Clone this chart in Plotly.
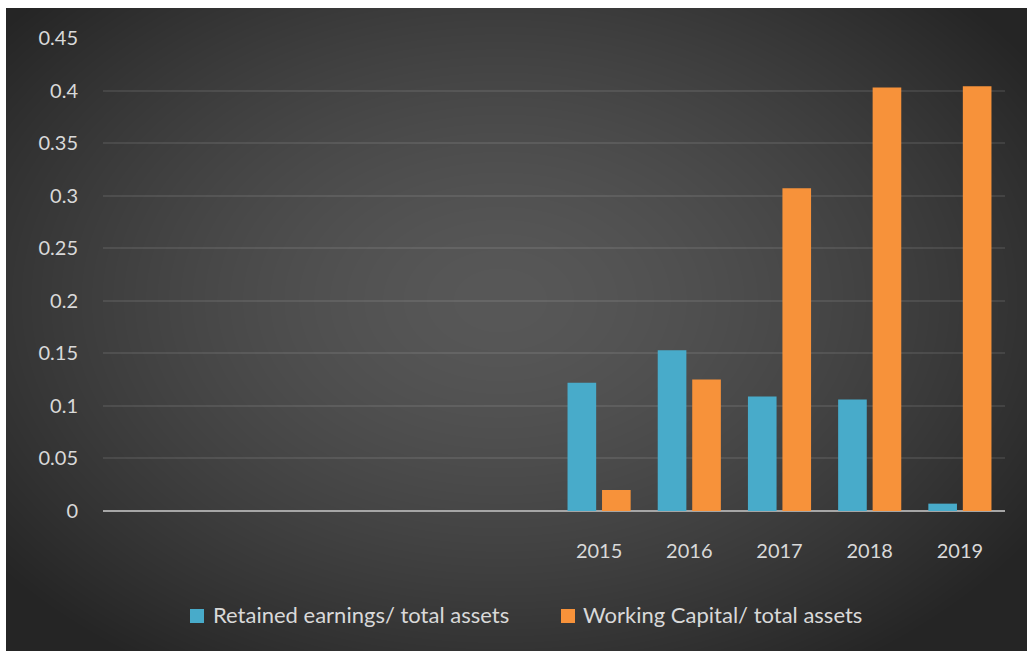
import base64
import struct
import zlib

import numpy as np
import plotly.graph_objects as go

# ---- data ----
categories = ["", "", "", "", "", "2015", "2016", "2017", "2018", "2019"]
retained_earnings = [None, None, None, None, None, 0.122, 0.153, 0.109, 0.106, 0.007]
working_capital = [None, None, None, None, None, 0.020, 0.125, 0.307, 0.403, 0.404]
series_names = ["Retained earnings/ total assets", "Working Capital/ total assets"]
series_colors = ["#48abca", "#f7923a"]
y_ticks = [0, 0.05, 0.1, 0.15, 0.2, 0.25, 0.3, 0.35, 0.4, 0.45]
y_tick_labels = ["0", "0.05", "0.1", "0.15", "0.2", "0.25", "0.3", "0.35", "0.4", "0.45"]

W, H = 1027, 651
ML, MR, MT, MB = 103, 22, 38, 140
PW, PH = W - ML - MR, H - MT - MB


def px_x(x):
    return (x - ML) / PW


def px_y(y):
    return (MT + PH - y) / PH


def png_data_uri(rgb):
    """Encode an HxWx3 uint8 array as a PNG data URI."""
    h, w, _ = rgb.shape
    raw = b"".join(b"\x00" + rgb[r].tobytes() for r in range(h))

    def chunk(tag, data):
        c = struct.pack(">I", len(data)) + tag + data
        return c + struct.pack(">I", zlib.crc32(tag + data) & 0xFFFFFFFF)

    png = b"\x89PNG\r\n\x1a\n"
    png += chunk(b"IHDR", struct.pack(">IIBBBBB", w, h, 8, 2, 0, 0, 0))
    png += chunk(b"IDAT", zlib.compress(raw, 9))
    png += chunk(b"IEND", b"")
    return "data:image/png;base64," + base64.b64encode(png).decode()


# radial dark-grey backdrop for the chart area, with a thin white frame top/left
bx0, by0 = 6, 8
yy, xx = np.mgrid[0:H, 0:W].astype(float)
cx, cy = 500.0, 300.0
rx, ry = 640.0, 440.0
d = np.sqrt(((xx - cx) / rx) ** 2 + ((yy - cy) / ry) ** 2)
d = np.clip(d, 0, 1)
center_c = np.array([0x58, 0x58, 0x58], float)
edge_c = np.array([0x25, 0x25, 0x25], float)
t = d[..., None] ** 1.5
img = center_c * (1 - t) + edge_c * t
img[:by0, :, :] = 255
img[:, :bx0, :] = 255
img = np.clip(img, 0, 255).astype(np.uint8)
bg_uri = png_data_uri(img)

x_idx = list(range(len(categories)))

fig = go.Figure()
for name, vals, col in zip(series_names, [retained_earnings, working_capital], series_colors):
    fig.add_trace(go.Bar(
        x=x_idx, y=vals, name=name,
        marker=dict(color=col, line=dict(width=0)),
        showlegend=False,
    ))

font_family = "Lato, 'Open Sans', sans-serif"
text_color = "#d9d9d9"

# legend row: coloured square + label for each series
legend_items = [(190, 211), (561, 581)]
square_mid, text_mid = 616, 614
annotations, shapes = [], []
for (sq_x, tx_x), name, col in zip(legend_items, series_names, series_colors):
    shapes.append(dict(
        type="rect", xref="paper", yref="paper",
        x0=px_x(sq_x), x1=px_x(sq_x + 14),
        y0=px_y(square_mid + 7), y1=px_y(square_mid - 7),
        fillcolor=col, line=dict(width=0),
    ))
    annotations.append(dict(
        xref="paper", yref="paper", x=px_x(tx_x), y=px_y(text_mid),
        text=name, showarrow=False, xanchor="left", yanchor="middle",
        font=dict(family=font_family, size=22, color=text_color),
    ))

fig.update_layout(
    width=W, height=H,
    margin=dict(l=ML, r=MR, t=MT, b=MB, pad=0),
    paper_bgcolor="rgba(0,0,0,0)",
    plot_bgcolor="rgba(0,0,0,0)",
    barmode="group",
    bargap=0.235,
    bargroupgap=0.17,
    font=dict(family=font_family, size=20, color=text_color),
    showlegend=False,
    annotations=annotations,
    shapes=shapes,
    images=[dict(
        source=bg_uri, xref="paper", yref="paper",
        x=-ML / PW, y=1 + MT / PH, sizex=W / PW, sizey=H / PH,
        xanchor="left", yanchor="top", sizing="stretch", layer="below",
    )],
    xaxis=dict(
        range=[-0.5, len(categories) - 0.5],
        tickmode="array", tickvals=x_idx, ticktext=categories,
        showgrid=False, zeroline=False, showline=False,
        ticks="", ticklabelstandoff=26,
        tickfont=dict(size=20, color=text_color),
    ),
    yaxis=dict(
        range=[0, 0.45],
        tickmode="array", tickvals=y_ticks, ticktext=y_tick_labels,
        showgrid=True, gridcolor="rgba(255,255,255,0.09)", gridwidth=2,
        zeroline=True, zerolinecolor="#a6a6a6", zerolinewidth=2,
        showline=False, ticks="", ticklabelstandoff=24,
        tickfont=dict(size=20, color=text_color),
    ),
)

fig.write_html("out.html", config=dict(displayModeBar=False))
